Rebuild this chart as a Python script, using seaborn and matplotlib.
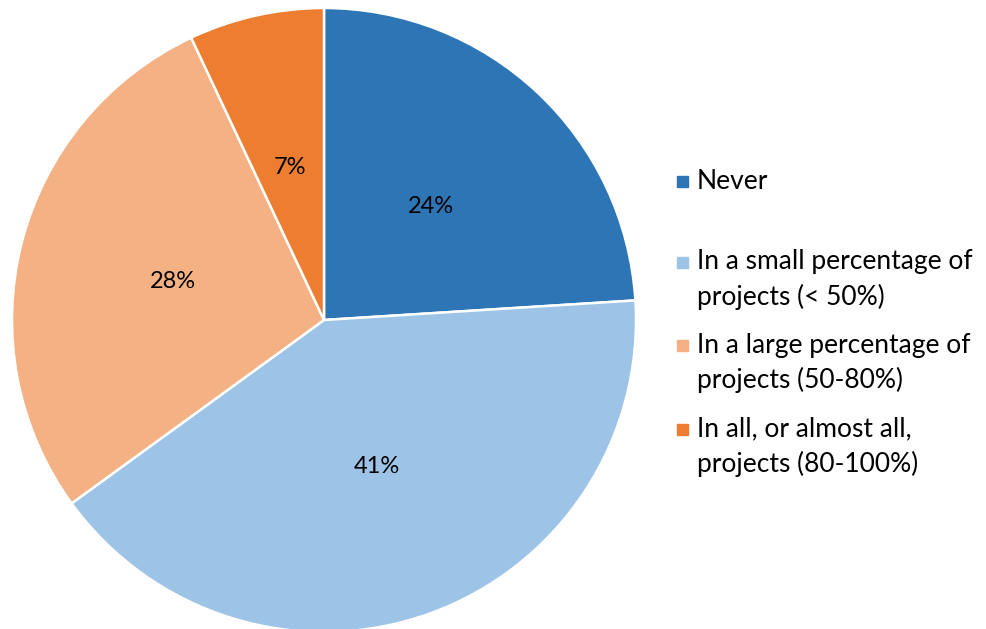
import matplotlib
matplotlib.use("Agg")
from matplotlib import pyplot as plt
from matplotlib.patches import Rectangle
import seaborn as sns

sns.set_theme(style="white")
plt.rcParams['font.family'] = ['Lato', 'DejaVu Sans']

# data
categories = ["Never",
              "In a small percentage of\nprojects (< 50%)",
              "In a large percentage of\nprojects (50-80%)",
              "In all, or almost all,\nprojects (80-100%)"]
shares = [24, 41, 28, 7]
colors = ["#2E75B6", "#9DC3E6", "#F4B183", "#ED7D31"]

W, H = 986, 629
fig = plt.figure(figsize=(W / 100, H / 100), dpi=100)
ax = fig.add_axes([0, 0, 1, 1])

# pie centre at pixel (324, 320), radius 312 px
cx, cy, r = 324, 320, 312

wedges, texts, autotexts = ax.pie(
    shares, colors=colors, startangle=90, counterclock=False,
    autopct=lambda p: f"{p:.0f}%", pctdistance=0.5, radius=1.0,
    wedgeprops=dict(edgecolor="white", linewidth=1.8),
    textprops=dict(fontsize=17, color="black"))
ax.set_xlim(-cx / r, (W - cx) / r)
ax.set_ylim(-(H - cy) / r, cy / r)
ax.set_aspect('auto')
ax.axis('off')

# legend drawn by hand to keep Excel-like spacing
first_line_y = [181, 262, 345, 429]
for label, col, py in zip(categories, colors, first_line_y):
    fig.patches.append(Rectangle((677 / W, 1 - (py + 6) / H), 11 / W, 11 / H,
                                 transform=fig.transFigure, color=col))
    for i, line in enumerate(label.split("\n")):
        fig.text(697 / W, 1 - (py + 35 * i) / H, line, fontsize=19,
                 va='center', ha='left', color="black")

fig.savefig("out.png", dpi=100)
